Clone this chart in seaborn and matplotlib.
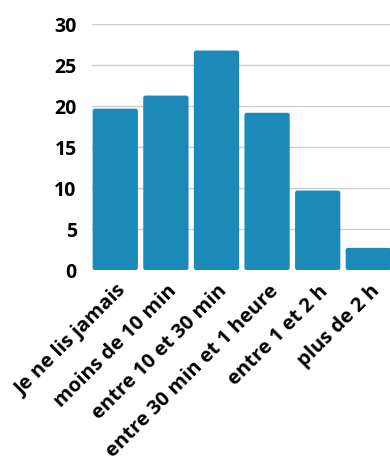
import matplotlib
matplotlib.use("Agg")
import matplotlib.pyplot as plt
from matplotlib import font_manager as fm
from matplotlib.patches import FancyBboxPatch
from matplotlib.transforms import ScaledTranslation
import seaborn as sns
import pandas as pd

categories = ["Je ne lis jamais", "moins de 10 min", "entre 10 et 30 min",
              "entre 30 min et 1 heure", "entre 1 et 2 h", "plus de 2 h"]
values = [19.7, 21.3, 26.8, 19.2, 9.7, 2.7]
y_ticks = [0, 5, 10, 15, 20, 25, 30]

BAR_COLOR = "#1b8ab8"

sns.set_theme(style="whitegrid")
plt.rcParams["font.family"] = ["Open Sans", "DejaVu Sans"]


def bold_font(size):
    # pick the normal-width bold face, not the condensed one
    for f in fm.fontManager.ttflist:
        if f.fname.endswith("OpenSans-Bold.ttf"):
            return fm.FontProperties(fname=f.fname, size=size)
    return fm.FontProperties(family="DejaVu Sans", weight="bold", size=size)


df = pd.DataFrame({"duree": categories, "valeur": values})

fig = plt.figure(figsize=(3.9, 4.61), dpi=100)
ax = fig.add_axes([92 / 390, 1 - 270 / 461, 301.6 / 390, 245.7 / 461])

sns.barplot(data=df, x="duree", y="valeur", color=BAR_COLOR, width=0.895,
            saturation=1, ax=ax)

ax.set_xlim(-0.46, 5.5)
ax.set_ylim(0, 30)

# slightly rounded bar corners
aspect = (30 / 245.7) / (5.96 / 301.6)
for p in list(ax.patches):
    x, y = p.get_x(), p.get_y()
    w, h = p.get_width(), p.get_height()
    p.remove()
    ax.add_patch(FancyBboxPatch((x, y), w, h,
                                boxstyle="round,pad=0,rounding_size=0.045",
                                mutation_aspect=aspect, facecolor=BAR_COLOR,
                                edgecolor="none", zorder=2))

ax.set_xlabel("")
ax.set_ylabel("")
ax.grid(axis="y", color="#cccccc", linewidth=1)
ax.grid(axis="x", visible=False)
ax.set_axisbelow(True)
for s in ax.spines.values():
    s.set_visible(False)

ax.tick_params(axis="both", length=0, labelcolor="black")
ax.tick_params(axis="y", pad=11)
ax.tick_params(axis="x", pad=8)
ax.set_yticks(y_ticks)
ax.set_yticklabels([str(t) for t in y_ticks], fontproperties=bold_font(14))
ax.set_xticks(range(len(categories)))
ax.set_xticklabels(categories, rotation=45, ha="right", rotation_mode="anchor",
                   fontproperties=bold_font(14.5))
shift = ScaledTranslation(1 / 100, 0, fig.dpi_scale_trans)
for lab in ax.get_xticklabels():
    lab.set_transform(lab.get_transform() + shift)

fig.savefig("out.png", dpi=100)
